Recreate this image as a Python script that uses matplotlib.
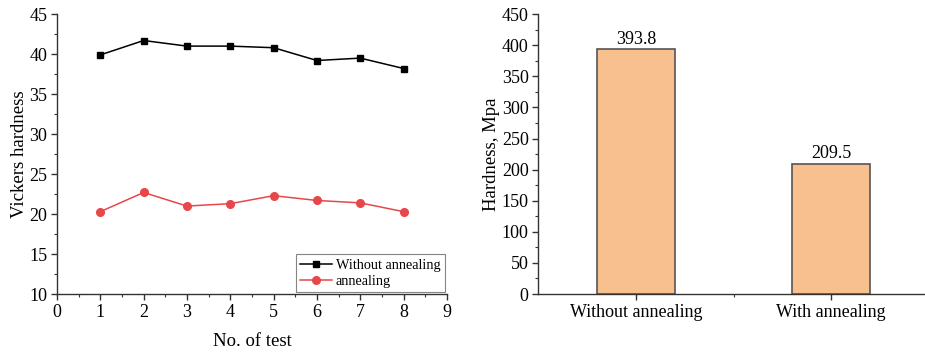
import matplotlib
matplotlib.use("Agg")
import matplotlib.pyplot as plt
from matplotlib.ticker import MultipleLocator

plt.rcParams['font.family'] = ['Liberation Serif', 'DejaVu Serif']

tests = [1, 2, 3, 4, 5, 6, 7, 8]
without_annealing = [39.9, 41.7, 41.0, 41.0, 40.8, 39.2, 39.5, 38.2]
annealing = [20.3, 22.7, 21.0, 21.3, 22.3, 21.7, 21.4, 20.3]

bar_categories = ["Without annealing", "With annealing"]
bar_values = [393.8, 209.5]

fig = plt.figure(figsize=(9.25, 3.53), dpi=100)
ax1 = fig.add_axes([0.0616, 0.167, 0.4216, 0.793])
ax2 = fig.add_axes([0.582, 0.167, 0.418, 0.793])

ax1.plot(tests, without_annealing, color='black', marker='s', markersize=5, lw=1.1,
         label='Without annealing')
ax1.plot(tests, annealing, color='#e8474a', marker='o', markersize=5.5, lw=1.1,
         label='annealing')
ax1.set_xlim(0, 9)
ax1.set_ylim(10, 45)
ax1.xaxis.set_major_locator(MultipleLocator(1))
ax1.xaxis.set_minor_locator(MultipleLocator(0.5))
ax1.yaxis.set_major_locator(MultipleLocator(5))
ax1.yaxis.set_minor_locator(MultipleLocator(2.5))
ax1.set_xlabel('No. of test', fontsize=13.5, labelpad=9)
ax1.set_ylabel('Vickers hardness', fontsize=13.5, labelpad=1)
leg = ax1.legend(loc='lower right', fontsize=10.3, frameon=True, fancybox=False,
                 borderpad=0.3, handlelength=2.2, handletextpad=0.3,
                 labelspacing=0.2, borderaxespad=0.15)
leg.get_frame().set_edgecolor('#666666')
leg.get_frame().set_linewidth(0.8)

xs = range(len(bar_categories))
bars = ax2.bar(xs, bar_values, width=0.4, color='#f9c08f', edgecolor='#555555', lw=1.2)
for x, v in zip(xs, bar_values):
    ax2.text(x, v + 2, f'{v}', ha='center', va='bottom', fontsize=13)
ax2.set_xlim(-0.5, 1.48)
ax2.set_ylim(0, 450)
ax2.set_xticks(list(xs))
ax2.set_xticklabels(bar_categories)
ax2.set_xticks([0.5], minor=True)
ax2.yaxis.set_major_locator(MultipleLocator(50))
ax2.yaxis.set_minor_locator(MultipleLocator(25))
ax2.set_ylabel('Hardness, Mpa', fontsize=13.5, labelpad=1)

for ax in (ax1, ax2):
    ax.spines['top'].set_visible(False)
    ax.spines['right'].set_visible(False)
    for s in ('left', 'bottom'):
        ax.spines[s].set_linewidth(1.0)
        ax.spines[s].set_color('#333333')
    ax.tick_params(which='major', direction='out', length=4, width=1, labelsize=13,
                   color='#333333', pad=3)
    ax.tick_params(which='minor', direction='out', length=2.5, width=0.8, color='#333333')

fig.savefig('out.png', dpi=100)
